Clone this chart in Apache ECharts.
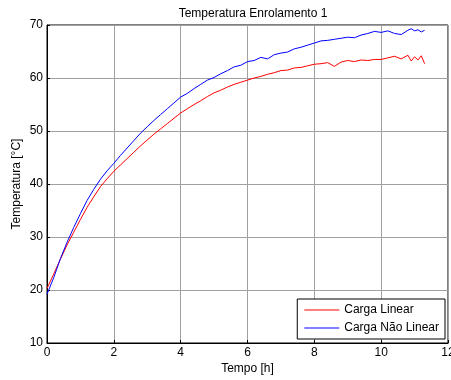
<!DOCTYPE html>
<html>
<head>
<meta charset="utf-8">
<script src="https://cdn.jsdelivr.net/npm/echarts@6/dist/echarts.min.js"></script>
<style>
html, body { margin: 0; padding: 0; background: #fff; }
#chart { width: 451px; height: 380px; }
</style>
</head>
<body>
<div id="chart"></div>
<script>
// tempo [h]
var tempo = [
    0, 0.2, 0.4, 0.6, 0.8, 1.0, 1.2, 1.4, 1.6, 1.8,
    2.0, 2.2, 2.4, 2.6, 2.8, 3.0, 3.2, 3.4, 3.6, 3.8,
    4.0, 4.2, 4.4, 4.6, 4.8, 5.0, 5.2, 5.4, 5.6, 5.8,
    6.0, 6.2, 6.4, 6.6, 6.8, 7.0, 7.2, 7.4, 7.6, 7.8,
    8.0, 8.2, 8.4, 8.6, 8.8, 9.0, 9.2, 9.4, 9.6, 9.8,
    10.0, 10.2, 10.4, 10.6, 10.8, 10.9, 11.0, 11.1, 11.2, 11.3
];
var cargaLinear = [
    20.3, 23.0, 25.8, 28.5, 30.9, 33.3, 35.6, 37.6, 39.5, 41.0,
    42.4, 43.6, 44.8, 46.0, 47.2, 48.3, 49.4, 50.4, 51.4, 52.4,
    53.4, 54.2, 55.0, 55.7, 56.5, 57.2, 57.7, 58.3, 58.8, 59.2,
    59.6, 60.0, 60.3, 60.7, 61.0, 61.4, 61.5, 61.9, 62.0, 62.3,
    62.6, 62.7, 62.9, 62.2, 63.0, 63.3, 63.1, 63.4, 63.3, 63.5,
    63.5, 63.8, 64.1, 63.6, 64.3, 63.2, 64.0, 63.4, 64.2, 62.7
];
var cargaNaoLinear = [
    19.2, 22.3, 25.9, 29.0, 31.8, 34.4, 36.9, 39.0, 40.9, 42.5,
    43.9, 45.4, 46.8, 48.2, 49.6, 50.8, 52.0, 53.1, 54.2, 55.3,
    56.4, 57.1, 58.0, 58.8, 59.6, 60.1, 60.8, 61.4, 62.1, 62.4,
    63.1, 63.3, 63.9, 63.6, 64.4, 64.7, 64.9, 65.5, 65.8, 66.2,
    66.6, 67.0, 67.1, 67.3, 67.5, 67.7, 67.6, 68.1, 68.4, 68.8,
    68.6, 68.9, 68.4, 68.2, 69.0, 69.3, 68.9, 69.1, 68.7, 69.0
];

function pairs(xs, ys) {
    var out = [];
    for (var i = 0; i < xs.length; i++) {
        out.push([xs[i], ys[i]]);
    }
    return out;
}

var chart = echarts.init(document.getElementById("chart"));
var font = "Liberation Sans, Arial, sans-serif";

var option = {
    backgroundColor: "#fff",
    animation: false,
    title: {
        text: "Temperatura Enrolamento 1",
        left: 248,
        textAlign: "center",
        top: 3,
        textStyle: { fontSize: 12, fontWeight: "normal", color: "#000", fontFamily: font }
    },
    legend: {
        right: 6,
        top: 299,
        orient: "vertical",
        backgroundColor: "#fff",
        borderColor: "#000",
        borderWidth: 1,
        borderRadius: 0,
        padding: [5, 6, 5, 7],
        icon: "rect",
        itemWidth: 35,
        itemHeight: 1,
        itemGap: 6,
        textStyle: { fontSize: 12, color: "#000", fontFamily: font },
        data: ["Carga Linear", "Carga Não Linear"]
    },
    grid: {
        left: 47,
        right: 3,
        top: 25,
        bottom: 37,
        outerBoundsMode: "none",
        show: true,
        borderColor: "#000",
        borderWidth: 1
    },
    xAxis: {
        type: "value",
        min: 0,
        max: 12,
        interval: 2,
        name: "Tempo [h]",
        nameLocation: "middle",
        nameGap: 20,
        nameMoveOverlap: false,
        nameTextStyle: { fontSize: 12, color: "#000", fontFamily: font },
        axisLine: { lineStyle: { color: "#000" } },
        axisTick: { inside: true, length: 3, lineStyle: { color: "#000" } },
        axisLabel: { fontSize: 12, color: "#000", fontFamily: font, margin: 4 },
        splitLine: { show: true, lineStyle: { color: "#a0a0a0", width: 1 } }
    },
    yAxis: {
        type: "value",
        min: 10,
        max: 70,
        interval: 10,
        name: "Temperatura [°C]",
        nameLocation: "middle",
        nameGap: 24,
        nameMoveOverlap: false,
        nameTextStyle: { fontSize: 12, color: "#000", fontFamily: font },
        axisLine: { show: true, lineStyle: { color: "#000" } },
        axisTick: { show: true, inside: true, length: 3, lineStyle: { color: "#000" } },
        axisLabel: { fontSize: 12, color: "#000", fontFamily: font, margin: 4 },
        splitLine: { show: true, lineStyle: { color: "#a0a0a0", width: 1 } }
    },
    series: [
        {
            name: "Carga Linear",
            type: "line",
            data: pairs(tempo, cargaLinear),
            symbol: "none",
            color: "#ff0000",
            lineStyle: { width: 1, color: "#ff0000" }
        },
        {
            name: "Carga Não Linear",
            type: "line",
            data: pairs(tempo, cargaNaoLinear),
            symbol: "none",
            color: "#0000ff",
            lineStyle: { width: 1, color: "#0000ff" }
        }
    ]
};

chart.setOption(option);
</script>
</body>
</html>
